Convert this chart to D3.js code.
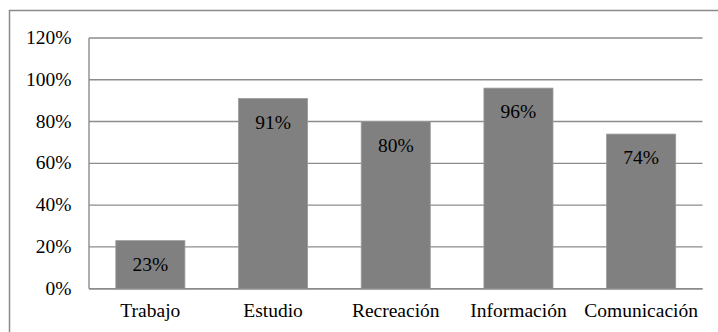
<!DOCTYPE html>
<html>
<head>
<meta charset="utf-8">
<script src="https://cdn.jsdelivr.net/npm/d3@7"></script>
<style>
  html, body { margin: 0; padding: 0; background: #fff; }
  svg { display: block; }
</style>
</head>
<body>
<svg id="chart" width="718" height="332"></svg>
<script>
// Uso de internet por finalidad
const categories = ["Trabajo", "Estudio", "Recreación", "Información", "Comunicación"];
const values = [23, 91, 80, 96, 74];
const yTicks = [0, 20, 40, 60, 80, 100, 120];

const svg = d3.select("#chart");
const FONT = '"Liberation Serif"';
const SIZE = "19.5px";

// Chart frame
svg.append("rect")
  .attr("x", 9.5).attr("y", 10.5)
  .attr("width", 720).attr("height", 330)
  .attr("fill", "none").attr("stroke", "#8a8a8a").attr("stroke-width", 1.5);

const plot = { left: 89, right: 702.5, top: 38, bottom: 288.7 };

const x = d3.scaleBand()
  .domain(categories)
  .range([plot.left, plot.right])
  .paddingInner(0.437)
  .paddingOuter(0.2185);

const y = d3.scaleLinear()
  .domain([0, 120])
  .range([plot.bottom, plot.top]);

// Horizontal gridlines
svg.append("g")
  .selectAll("line")
  .data(yTicks)
  .join("line")
  .attr("x1", plot.left).attr("x2", plot.right)
  .attr("y1", d => y(d)).attr("y2", d => y(d))
  .attr("stroke", "#8c8c8c").attr("stroke-width", 1.4);

// Bars
svg.append("g")
  .selectAll("rect")
  .data(values)
  .join("rect")
  .attr("x", (d, i) => x(categories[i]))
  .attr("y", d => y(d))
  .attr("width", x.bandwidth())
  .attr("height", d => plot.bottom - y(d))
  .attr("fill", "#808080")
  .attr("stroke", "#9a9a9a").attr("stroke-width", 0.8);

// Axis lines
svg.append("line")
  .attr("x1", plot.left).attr("x2", plot.left)
  .attr("y1", plot.top).attr("y2", plot.bottom)
  .attr("stroke", "#8c8c8c").attr("stroke-width", 1.4);
svg.append("line")
  .attr("x1", plot.left).attr("x2", plot.right)
  .attr("y1", plot.bottom).attr("y2", plot.bottom)
  .attr("stroke", "#8c8c8c").attr("stroke-width", 1.4);

function styleText(sel) {
  return sel.style("font-family", FONT).style("font-size", SIZE).style("fill", "#000");
}

// Y tick labels
svg.append("g")
  .selectAll("text")
  .data(yTicks)
  .join("text")
  .attr("x", 71.5)
  .attr("y", d => y(d) + 6)
  .attr("text-anchor", "end")
  .call(styleText)
  .text(d => d + "%");

// Category labels
svg.append("g")
  .selectAll("text")
  .data(categories)
  .join("text")
  .attr("x", d => x(d) + x.bandwidth() / 2)
  .attr("y", 316.5)
  .attr("text-anchor", "middle")
  .call(styleText)
  .text(d => d);

// Value labels inside bars
svg.append("g")
  .selectAll("text")
  .data(values)
  .join("text")
  .attr("x", (d, i) => x(categories[i]) + x.bandwidth() / 2)
  .attr("y", d => y(d) + 30)
  .attr("text-anchor", "middle")
  .call(styleText)
  .text(d => d + "%");
</script>
</body>
</html>
